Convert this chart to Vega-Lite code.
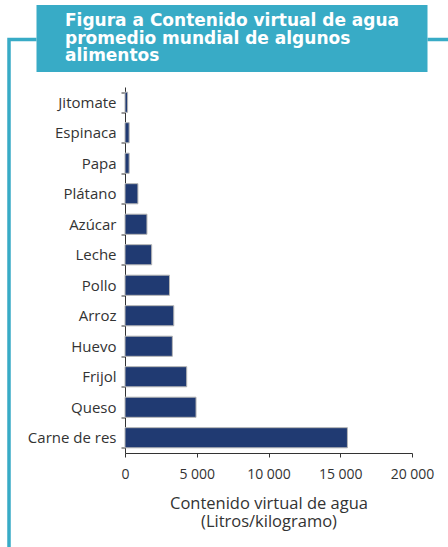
{
  "$schema": "https://vega.github.io/schema/vega-lite/v6.json",
  "padding": {"left": 9, "top": 38.5, "right": 439, "bottom": 508.5},
  "autosize": {"type": "none"},
  "background": "white",
  "spacing": 0,
  "center": true,
  "bounds": "flush",
  "config": {"font": "Open Sans"},
  "vconcat": [
    {
      "width": 393,
      "height": 0.01,
      "view": {"fill": null, "stroke": "#38abc6", "strokeWidth": 67, "strokeCap": "butt", "strokeJoin": "bevel", "strokeDash": [0, 1, 391, 2000]},
      "data": {"values": [{"titulo": "Figura a Contenido virtual de agua\npromedio mundial de algunos\nalimentos"}]},
      "mark": {"type": "text", "align": "left", "baseline": "middle", "dx": -167, "dy": -17.5, "lineBreak": "\n", "lineHeight": 17.5, "font": "DejaVu Sans", "fontSize": 17, "fontWeight": "bold", "fill": "white"},
      "encoding": {"text": {"field": "titulo", "type": "nominal"}}
    },
    {
      "width": 446,
      "height": 520,
      "view": {"fill": null, "stroke": "#38abc6", "strokeWidth": 3.5, "strokeDash": [27.5, 391, 27.5, 966, 520]},
      "data": {"values": [
        {"alimento": "Jitomate", "litros": 180},
        {"alimento": "Espinaca", "litros": 290},
        {"alimento": "Papa", "litros": 290},
        {"alimento": "Plátano", "litros": 900},
        {"alimento": "Azúcar", "litros": 1530},
        {"alimento": "Leche", "litros": 1860},
        {"alimento": "Pollo", "litros": 3100},
        {"alimento": "Arroz", "litros": 3400},
        {"alimento": "Huevo", "litros": 3300},
        {"alimento": "Frijol", "litros": 4300},
        {"alimento": "Queso", "litros": 4950},
        {"alimento": "Carne de res", "litros": 15500}
      ]},
      "mark": {"type": "bar", "color": "#203a72", "stroke": "#b5b5b5", "strokeWidth": 1},
      "encoding": {
        "y": {
          "field": "alimento", "type": "nominal", "sort": null,
          "scale": {"range": [47.5, 413.5], "paddingInner": 0.34, "paddingOuter": 0.17},
          "axis": {"title": null, "offset": -116, "domainColor": "#333333", "tickColor": "#333333", "tickSize": 4, "tickBand": "extent", "labelFontSize": 15, "labelColor": "#333333", "labelPadding": 5, "grid": false}
        },
        "x": {
          "field": "litros", "type": "quantitative",
          "scale": {"domain": [0, 20000], "range": [116, 403], "nice": false},
          "axis": {
            "title": ["Contenido virtual de agua", "(Litros/kilogramo)"],
            "offset": -106.5,
            "values": [0, 5000, 10000, 15000, 20000],
            "labelExpr": "replace(format(datum.value, ','), ',', ' ')",
            "labelFlush": false,
            "tickSize": 4, "labelPadding": 10, "labelFontSize": 14,
            "titleFontSize": 16.5, "titleFontWeight": "normal", "titlePadding": 14, "titleLineHeight": 18,
            "grid": false, "titleColor": "#333333", "labelColor": "#333333",
            "domainColor": "#333333", "tickColor": "#333333"
          }
        }
      }
    }
  ]
}
